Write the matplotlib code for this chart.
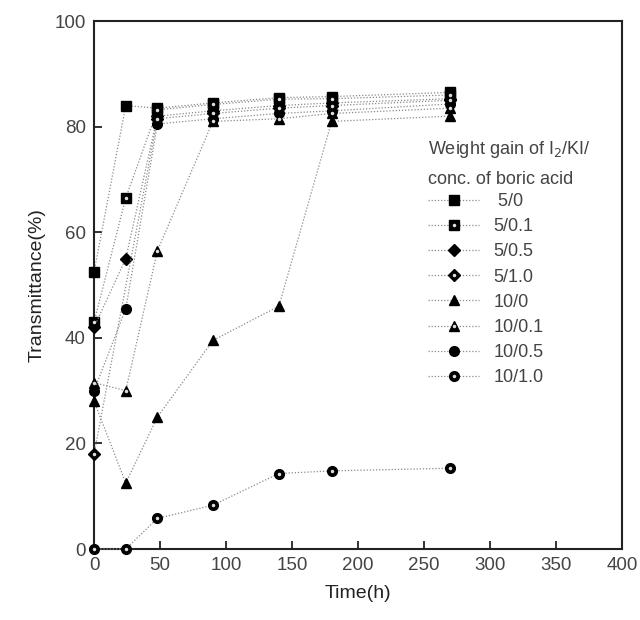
import numpy as np
import matplotlib
matplotlib.use('Agg')
import matplotlib.pyplot as plt

plt.rcParams['font.family'] = ['Liberation Sans', 'DejaVu Sans']

# sampling times (h)
times = [0, 24, 48, 90, 140, 180, 270]

# transmittance (%) per series, nan = no point
s5_0 = [52.5, 84.0, 83.5, 84.5, 85.5, 85.7, 86.5]
s5_01 = [43.0, 66.5, 83.2, 84.2, 85.2, 85.3, 86.0]
s5_05 = [42.0, 55.0, 82.0, 83.0, 84.0, 84.5, 85.3]
s5_10 = [18.0, np.nan, 81.5, 82.5, 83.5, 84.0, 85.0]
s10_0 = [28.0, 12.5, 25.0, 39.5, 46.0, 81.0, 82.0]
s10_01 = [31.5, 30.0, 56.5, 81.0, 81.5, 82.5, 83.5]
s10_05 = [30.0, 45.5, 80.5, 81.5, 82.5, 83.0, 84.3]
s10_10 = [0.0, 0.0, 5.8, 8.3, 14.3, 14.8, 15.3]

labels = [' 5/0', '5/0.1', '5/0.5', '5/1.0', '10/0', '10/0.1', '10/0.5', '10/1.0']
series = [s5_0, s5_01, s5_05, s5_10, s10_0, s10_01, s10_05, s10_10]
markers = ['s', 's', 'D', 'D', '^', '^', 'o', 'o']
dotted = [False, True, False, True, False, True, False, True]
msizes = [7, 7, 6, 6, 7, 7, 7, 7]

fig = plt.figure(figsize=(6.4, 6.2), dpi=100)
ax = fig.add_axes([0.147, 0.1145, 0.825, 0.8515])

handles = []
for y, m, d, ms, lab in zip(series, markers, dotted, msizes, labels):
    x = np.array(times, dtype=float)
    y = np.array(y, dtype=float)
    ok = ~np.isnan(y)
    ln, = ax.plot(x[ok], y[ok], linestyle=(0, (1, 1.5)), color='#8a8a8a', lw=0.9,
                  marker=m, ms=ms, mfc='black', mec='black', zorder=3, clip_on=False)
    h = ln
    if d:
        dot, = ax.plot(x[ok], y[ok], linestyle='none', marker='o', ms=1.5,
                       mfc='#dddddd', mec='#dddddd', zorder=4, clip_on=False)
        h = (ln, dot)
    handles.append(h)

ax.set_xlim(0, 400)
ax.set_ylim(0, 100)
ax.set_xticks(np.arange(0, 401, 50))
ax.set_yticks(np.arange(0, 101, 20))
ax.tick_params(direction='in', length=6, width=1.3, labelsize=13.5, colors='#222222',
               labelcolor='#444444', top=False, right=False, pad=6)
for sp in ax.spines.values():
    sp.set_linewidth(1.5)
    sp.set_color('#222222')

ax.set_xlabel('Time(h)', fontsize=14, color='#222222', labelpad=8)
ax.set_ylabel('Transmittance(%)', fontsize=14, color='#222222', labelpad=6)

leg = fig.legend(handles, labels, loc='upper left', bbox_to_anchor=(0.658, 0.787),
                 frameon=False, fontsize=13, handlelength=2.8, handletextpad=0.8,
                 labelspacing=0.45, borderaxespad=0,
                 title='Weight gain of I$_2$/KI/\nconc. of boric acid',
                 title_fontsize=13)
leg._legend_box.align = 'left'
leg._legend_box.sep = 4
for t in leg.get_texts():
    t.set_color('#444444')
leg.get_title().set_color('#444444')
leg.get_title().set_linespacing(1.8)

fig.savefig('out.png', dpi=100)
